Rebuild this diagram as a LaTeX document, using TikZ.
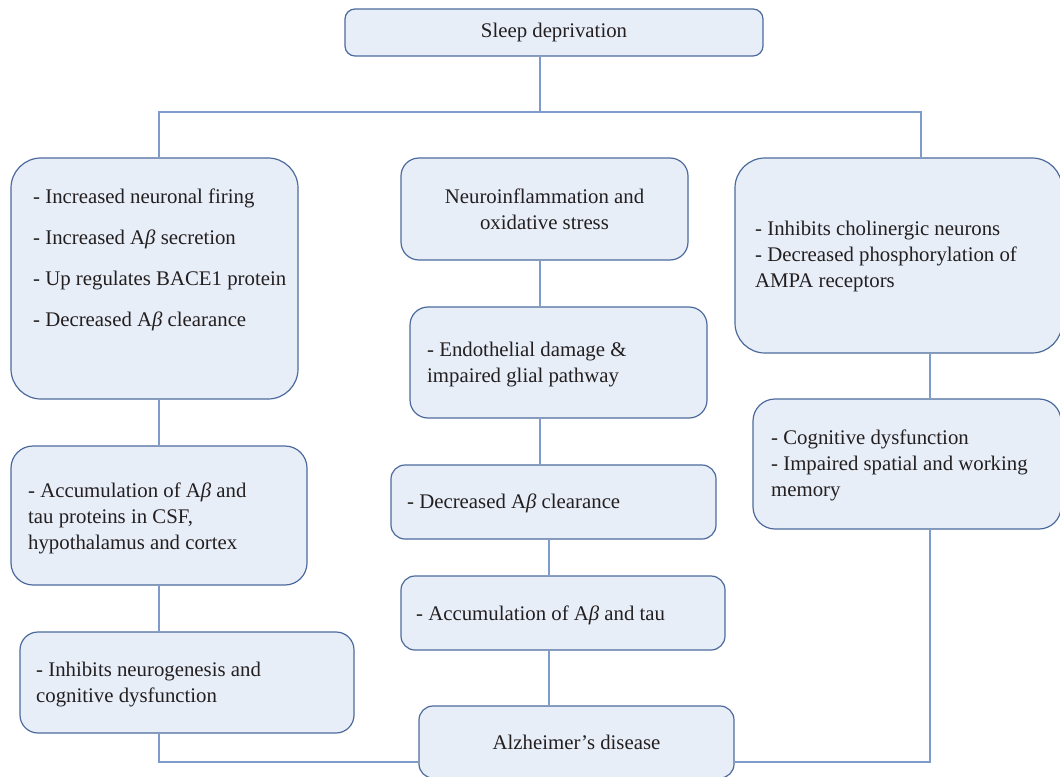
\documentclass[tikz,border=0pt]{standalone}
\usepackage{fontspec}
\setmainfont{Liberation Serif}
\usepackage{tikz}
\definecolor{boxfill}{HTML}{E8EEF8}
\definecolor{boxline}{HTML}{4C6A9C}
\definecolor{linkcol}{HTML}{7D9CCB}
\definecolor{inkcol}{HTML}{231F20}
\newcommand{\Ab}{A\textit{β}}

\begin{document}
\begin{tikzpicture}[x=1bp, y=-1bp,
    box/.style={draw=boxline, fill=boxfill, line width=1.2bp, inner sep=0pt,
      text=inkcol, align=center},
    txt/.style={anchor=west, inner sep=0pt, align=left, text=inkcol},
    link/.style={draw=linkcol, line width=1.4bp},
    every node/.style={font=\fontsize{20.8bp}{26bp}\selectfont}]

  \useasboundingbox (0,0) rectangle (1060,777);

  % Boxes
  \node[box, minimum width=418bp, minimum height=47bp, rounded corners=10bp] (sleep) at (554,32.5) {Sleep deprivation};

  \node[box, minimum width=287bp, minimum height=241bp, rounded corners=30bp] (lb1) at (154.5,278.5) {};
  \node[box, minimum width=296bp, minimum height=139bp, rounded corners=22bp] (lb2) at (159,515.5) {};
  \node[box, minimum width=334bp, minimum height=101bp, rounded corners=18bp] (lb3) at (187,682.5) {};

  \node[box, minimum width=287bp, minimum height=102bp, rounded corners=18bp] (mb1) at (544.5,209) {Neuroinflammation and\\oxidative stress};
  \node[box, minimum width=297bp, minimum height=111bp, rounded corners=18bp] (mb2) at (558.5,362.5) {};
  \node[box, minimum width=325bp, minimum height=74bp, rounded corners=14bp] (mb3) at (553.5,502) {};
  \node[box, minimum width=324bp, minimum height=74bp, rounded corners=14bp] (mb4) at (563,613) {};
  \node[box, minimum width=315bp, minimum height=72bp, rounded corners=14bp] (alz) at (576.5,742) {Alzheimer's disease};

  \node[box, minimum width=327bp, minimum height=195bp, rounded corners=30bp] (rb1) at (898.5,255.5) {};
  \node[box, minimum width=308bp, minimum height=130bp, rounded corners=22bp] (rb2) at (907,464) {};

  % Box texts
  \node[txt] (lb1t) at (33,260) {- Increased neuronal firing\\[15bp]- Increased \Ab{} secretion\\[15bp]- Up regulates BACE1 protein\\[15bp]- Decreased \Ab{} clearance};
  \node[txt] (lb2t) at (28,518) {- Accumulation of \Ab{} and\\tau proteins in CSF,\\hypothalamus and cortex};
  \node[txt] (lb3t) at (36,685) {- Inhibits neurogenesis and\\cognitive dysfunction};
  \node[txt] (mb2t) at (427,364.5) {- Endothelial damage \&\\impaired glial pathway};
  \node[txt] (mb3t) at (407,503) {- Decreased \Ab{} clearance};
  \node[txt] (mb4t) at (416,615) {- Accumulation of \Ab{} and tau};
  \node[txt] (rb1t) at (755,256) {- Inhibits cholinergic neurons\\- Decreased phosphorylation of\\AMPA receptors};
  \node[txt] (rb2t) at (771,465) {- Cognitive dysfunction\\- Impaired spatial and working\\memory};

  % Connector points
  \coordinate (busL) at (159,112);
  \coordinate (busM) at (540,112);
  \coordinate (busR) at (921,112);
  \coordinate (colB) at (549,762);
  \coordinate (jl) at (159,762);
  \coordinate (jr) at (930,762);

  % Connectors
  \draw[link] (sleep.south -| busM) -- (busM);
  \draw[link] (lb1.north -| busL) -- (busL) -- (busR) -- (rb1.north -| busR);
  \draw[link] (lb1.south -| busL) -- (lb2.north -| busL);
  \draw[link] (lb2.south -| busL) -- (lb3.north -| busL);
  \draw[link] (lb3.south -| jl) -- (jl) -- (alz.west |- jl);
  \draw[link] (mb1.south -| busM) -- (mb2.north -| busM);
  \draw[link] (mb2.south -| busM) -- (mb3.north -| busM);
  \draw[link] (mb3.south -| colB) -- (mb4.north -| colB);
  \draw[link] (mb4.south -| colB) -- (alz.north -| colB);
  \draw[link] (rb1.south -| jr) -- (rb2.north -| jr);
  \draw[link] (rb2.south -| jr) -- (jr) -- (alz.east |- jr);

\end{tikzpicture}
\end{document}
